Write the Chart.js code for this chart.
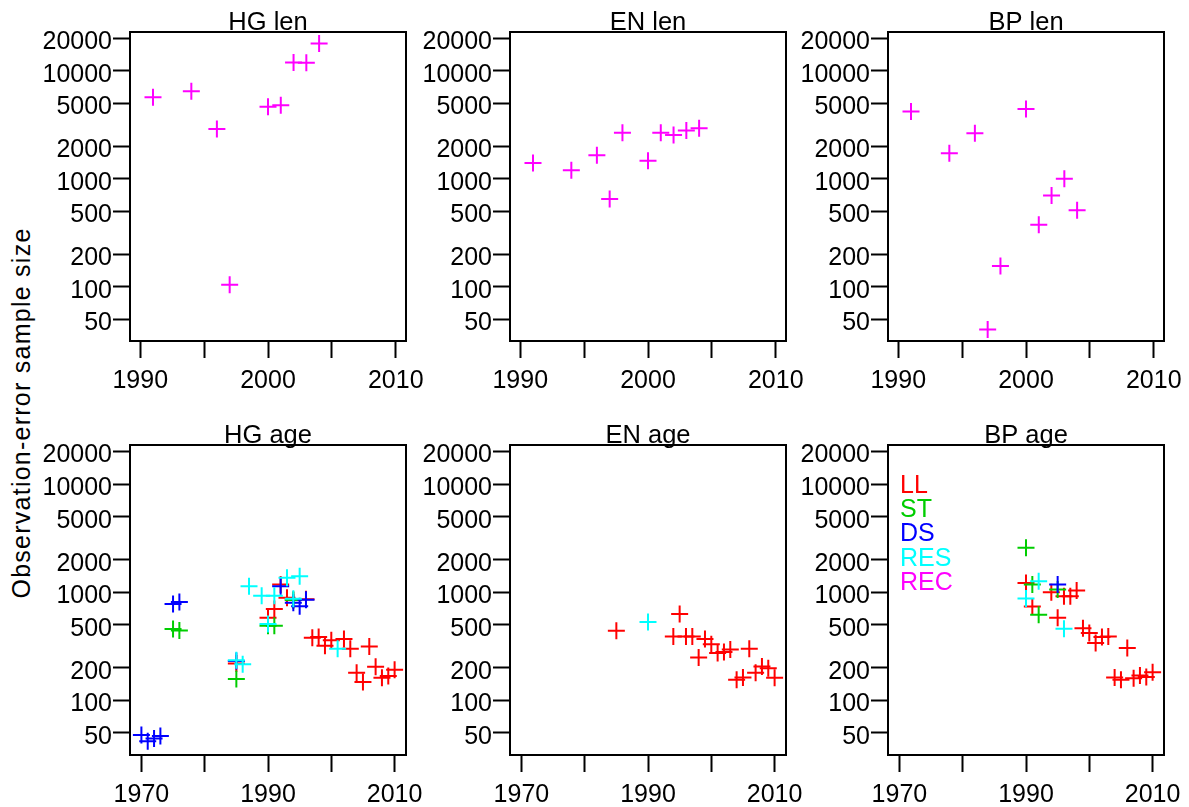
<!DOCTYPE html>
<html>
<head>
<meta charset="utf-8">
<title>Observation-error sample size</title>
<script src="https://cdn.jsdelivr.net/npm/chart.js@4.4.0/dist/chart.umd.min.js"></script>
<style>
  html, body { margin: 0; padding: 0; background: #ffffff; overflow: hidden; }
  #wrap { position: relative; width: 1189px; height: 807px; }
  #wrap canvas { position: absolute; }
  #ylab {
    position: absolute; left: 21px; top: 413px;
    transform: translate(-50%, -50%) rotate(-90deg);
    font: 25px "Liberation Sans", Arial, sans-serif;
    letter-spacing: 1.25px;
    color: #000; white-space: nowrap;
  }
</style>
</head>
<body>
<div id="wrap">
  <div id="ylab">Observation-error sample size</div>
</div>
<script>
// ---- series ----
const seriesNames = ['LL', 'ST', 'DS', 'RES', 'REC'];
const seriesColours = ['#FF0000', '#00CD00', '#0000FF', '#00FFFF', '#FF00FF'];

// ---- axis ticks ----
const yTickValues = [50, 100, 200, 500, 1000, 2000, 5000, 10000, 20000];
const lenYearTicks = [1990, 1995, 2000, 2005, 2010];
const lenYearLabels = [1990, 2000, 2010];
const ageYearTicks = [1970, 1980, 1990, 2000, 2010];
const ageYearLabels = [1970, 1990, 2010];

// ---- length compositions (recreational) ----
const hgLenYears = [1991, 1994, 1996, 1997, 2000, 2001, 2002, 2003, 2004];
const hgLenRec   = [5700, 6500, 2900, 104, 4650, 4800, 12000, 11900, 18000];
const enLenYears = [1991, 1994, 1996, 1997, 1998, 2000, 2001, 2002, 2003, 2004];
const enLenRec   = [1400, 1200, 1650, 650, 2680, 1470, 2680, 2550, 2800, 2950];
const bpLenYears = [1991, 1994, 1996, 1997, 1998, 2000, 2001, 2002, 2003, 2004];
const bpLenRec   = [4200, 1730, 2650, 40, 155, 4450, 375, 700, 1000, 510];

// ---- age compositions, HG ----
const hgAgeLLYears  = [1985, 1990, 1991, 1992, 1993, 1994, 1996, 1997, 1998, 1999, 2000, 2002, 2003, 2004, 2005, 2006, 2007, 2008, 2009, 2010];
const hgAgeLL       = [220, 580, 700, 1180, 890, 850, 860, 380, 385, 320, 360, 370, 300, 180, 148, 315, 205, 162, 168, 192];
const hgAgeSTYears  = [1975, 1976, 1985, 1990, 1991, 1994];
const hgAgeST       = [457, 444, 158, 490, 490, 850];
const hgAgeDSYears  = [1970, 1971, 1972, 1973, 1975, 1976, 1985, 1992, 1994, 1995, 1996];
const hgAgeDS       = [48, 42, 44.5, 47, 780, 813, 232, 1140, 800, 742, 855];
const hgAgeRESYears = [1985, 1986, 1987, 1989, 1990, 1991, 1993, 1994, 1995, 2001];
const hgAgeRES      = [235, 216, 1140, 930, 510, 930, 1360, 870, 1410, 300];

// ---- age compositions, EN ----
const enAgeLLYears  = [1985, 1994, 1995, 1996, 1997, 1998, 1999, 2000, 2001, 2002, 2003, 2004, 2005, 2006, 2007, 2008, 2009, 2010];
const enAgeLL       = [440, 390, 630, 390, 390, 250, 370, 330, 275, 280, 295, 155, 163, 300, 180, 206, 198, 162];
const enAgeRESYears = [1990];
const enAgeRES      = [530];

// ---- age compositions, BP ----
const bpAgeLLYears  = [1990, 1991, 1994, 1995, 1996, 1997, 1998, 1999, 2000, 2001, 2002, 2003, 2004, 2005, 2006, 2007, 2008, 2009, 2010];
const bpAgeLL       = [1220, 740, 1000, 580, 920, 920, 1040, 465, 420, 340, 385, 390, 163, 155, 305, 160, 170, 165, 182];
const bpAgeSTYears  = [1990, 1991, 1992, 1995];
const bpAgeST       = [2575, 1180, 620, 1060];
const bpAgeDSYears  = [1995];
const bpAgeDS       = [1180];
const bpAgeRESYears = [1990, 1992, 1996];
const bpAgeRES      = [875, 1265, 460];

// ---- layout ----
const FONT = '"Liberation Sans", Arial, sans-serif';
const BOX_W = 276, Y_AXIS_W = 125, TOP_PAD = 32, X_AXIS_H = 52, RIGHT_PAD = 30;
const Y_MIN = 31.3, Y_MAX = 23000;
const LEN_X = [1989.2, 2010.8], AGE_X = [1968.2, 2011.8];

const panels = [
  { title: 'HG len', left: 130, top: 32,  h: 309, xr: LEN_X, ticks: lenYearTicks, labels: lenYearLabels,
    series: [[4, hgLenYears, hgLenRec]] },
  { title: 'EN len', left: 510, top: 32,  h: 309, xr: LEN_X, ticks: lenYearTicks, labels: lenYearLabels,
    series: [[4, enLenYears, enLenRec]] },
  { title: 'BP len', left: 888, top: 32,  h: 309, xr: LEN_X, ticks: lenYearTicks, labels: lenYearLabels,
    series: [[4, bpLenYears, bpLenRec]] },
  { title: 'HG age', left: 130, top: 445, h: 310, xr: AGE_X, ticks: ageYearTicks, labels: ageYearLabels,
    series: [[0, hgAgeLLYears, hgAgeLL], [1, hgAgeSTYears, hgAgeST], [2, hgAgeDSYears, hgAgeDS], [3, hgAgeRESYears, hgAgeRES]] },
  { title: 'EN age', left: 510, top: 445, h: 310, xr: AGE_X, ticks: ageYearTicks, labels: ageYearLabels,
    series: [[0, enAgeLLYears, enAgeLL], [3, enAgeRESYears, enAgeRES]] },
  { title: 'BP age', left: 888, top: 445, h: 310, xr: AGE_X, ticks: ageYearTicks, labels: ageYearLabels,
    series: [[0, bpAgeLLYears, bpAgeLL], [1, bpAgeSTYears, bpAgeST], [2, bpAgeDSYears, bpAgeDS], [3, bpAgeRESYears, bpAgeRES]],
    legend: true }
];

// frame round the plotting region
const framePlugin = {
  id: 'frame',
  afterDatasetsDraw(chart) {
    const a = chart.chartArea, ctx = chart.ctx;
    ctx.save();
    ctx.strokeStyle = '#000';
    ctx.lineWidth = 2;
    ctx.strokeRect(a.left, a.top, a.right - a.left, a.bottom - a.top);
    ctx.restore();
  }
};

// panel heading centred over the plotting region
function headingPlugin(text) {
  return {
    id: 'heading',
    afterDraw(chart) {
      const a = chart.chartArea, ctx = chart.ctx;
      ctx.save();
      ctx.font = '25.5px ' + FONT;
      ctx.fillStyle = '#000';
      ctx.textAlign = 'center';
      ctx.textBaseline = 'alphabetic';
      ctx.fillText(text, (a.left + a.right) / 2, a.top - 2);
      ctx.restore();
    }
  };
}

// fleet key written as coloured words
const keyPlugin = {
  id: 'fleetKey',
  afterDraw(chart) {
    const a = chart.chartArea, ctx = chart.ctx;
    ctx.save();
    ctx.font = '25px ' + FONT;
    ctx.textAlign = 'left';
    ctx.textBaseline = 'alphabetic';
    seriesNames.forEach((name, i) => {
      ctx.fillStyle = seriesColours[i];
      ctx.fillText(name, a.left + 12, a.top + 48 + i * 24.2);
    });
    ctx.restore();
  }
};

const wrap = document.getElementById('wrap');
Chart.defaults.font.family = FONT;
Chart.defaults.font.size = 25;
Chart.defaults.color = '#000';

panels.forEach((p) => {
  const cv = document.createElement('canvas');
  cv.width = Y_AXIS_W + BOX_W + RIGHT_PAD;
  cv.height = TOP_PAD + p.h + X_AXIS_H;
  cv.style.left = (p.left - Y_AXIS_W) + 'px';
  cv.style.top = (p.top - TOP_PAD) + 'px';
  cv.style.width = cv.width + 'px';
  cv.style.height = cv.height + 'px';
  wrap.appendChild(cv);

  const datasets = p.series.map(([k, xs, ys]) => ({
    label: seriesNames[k],
    data: xs.map((x, i) => ({ x: x, y: ys[i] })),
    pointStyle: 'cross',
    pointRadius: 8.5,
    pointHoverRadius: 8.5,
    borderColor: seriesColours[k],
    backgroundColor: seriesColours[k],
    borderWidth: 2,
    order: seriesNames.length - k,
    clip: false
  }));

  const tickGrid = { display: true, drawOnChartArea: false, drawTicks: true, tickLength: 17, tickWidth: 2, tickColor: '#000' };

  new Chart(cv, {
    type: 'scatter',
    data: { datasets },
    options: {
      responsive: false,
      animation: false,
      devicePixelRatio: 1,
      events: [],
      layout: { padding: { top: TOP_PAD, right: RIGHT_PAD, left: 0, bottom: 0 }, autoPadding: false },
      plugins: { legend: { display: false }, tooltip: { enabled: false }, title: { display: false } },
      scales: {
        x: {
          type: 'linear', min: p.xr[0], max: p.xr[1],
          afterBuildTicks: s => { s.ticks = p.ticks.map(v => ({ value: v })); },
          afterFit: s => { s.height = X_AXIS_H; },
          ticks: { autoSkip: false, maxRotation: 0, minRotation: 0, padding: 8,
                   callback: v => (p.labels.includes(v) ? String(v) : '') },
          grid: tickGrid,
          border: { display: false }
        },
        y: {
          type: 'logarithmic', min: Y_MIN, max: Y_MAX,
          afterBuildTicks: s => { s.ticks = yTickValues.map(v => ({ value: v })); },
          afterFit: s => { s.width = Y_AXIS_W; },
          ticks: { autoSkip: false, padding: 1, labelOffset: 4, callback: v => String(v) },
          grid: tickGrid,
          border: { display: false }
        }
      }
    },
    plugins: [framePlugin, headingPlugin(p.title)].concat(p.legend ? [keyPlugin] : [])
  });
});
</script>
</body>
</html>
